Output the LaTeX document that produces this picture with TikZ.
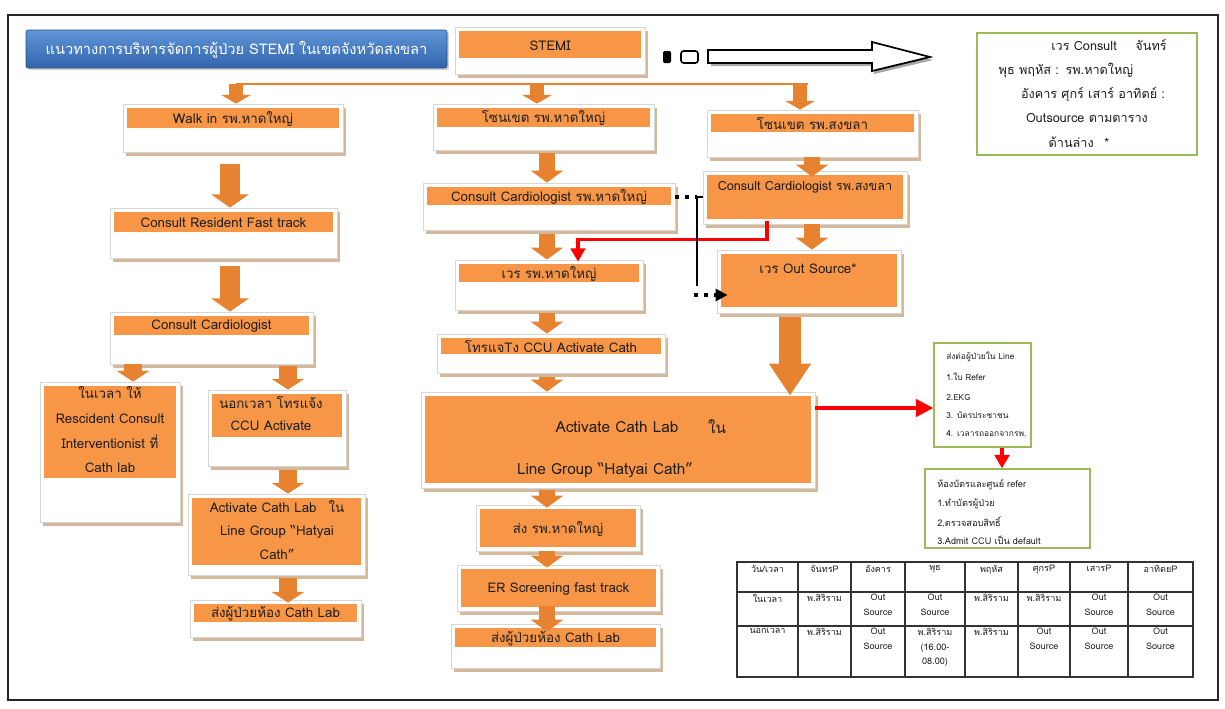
\documentclass[tikz,border=0pt]{standalone}
\usepackage{fontspec}
\setmainfont{Loma}[Script=Thai]
\usetikzlibrary{arrows.meta,fit,shadows,calc}
\definecolor{orng}{RGB}{247,150,70}
\definecolor{arrorg}{RGB}{230,130,48}
\definecolor{shad}{RGB}{205,172,135}
\definecolor{cardedge}{RGB}{214,214,214}
\definecolor{grn}{RGB}{155,187,89}
\definecolor{txt}{RGB}{30,30,30}
\definecolor{bluetop}{RGB}{95,150,215}
\definecolor{bluebot}{RGB}{50,100,172}
\tikzset{
  cardbox/.style={draw=cardedge, line width=0.6pt, fill=white, inner sep=0pt,
    drop shadow={shadow xshift=2.6pt, shadow yshift=-3.2pt, fill=shad, opacity=0.85}},
  bandbox/.style={fill=orng, inner sep=0pt},
  lbl/.style={text=txt, font=\fontsize{10}{12}\selectfont, inner sep=0pt, align=center},
  biglbl/.style={text=txt, font=\fontsize{11.5}{14}\selectfont, inner sep=0pt, align=center},
  gbox/.style={draw=grn, line width=1.1pt, fill=white, inner sep=0pt},
  smalltxt/.style={text=txt, font=\fontsize{6.3}{9}\selectfont, inner sep=0pt, anchor=west},
  infotxt/.style={text=txt, font=\fontsize{9.5}{12}\selectfont, inner sep=0pt},
  tcell/.style={text=txt, font=\fontsize{6.8}{11}\selectfont, inner sep=0pt, align=center, anchor=north},
  tline/.style={draw=black!80, line width=1.3pt},
  titlebox/.style={rounded corners=1.5pt, top color=bluetop, bottom color=bluebot, draw=bluebot!80!black, line width=0.4pt,
    inner sep=0pt, drop shadow={shadow xshift=1.5pt, shadow yshift=-1.5pt, opacity=.35}},
  titletxt/.style={text=white, font=\fontsize{11}{13}\selectfont, inner sep=0pt},
  fatA/.style={draw=arrorg, line width=15pt, -{Triangle[width=28pt,length=10pt]}},
  fatB/.style={draw=arrorg, line width=13pt, -{Triangle[width=24pt,length=8pt]}},
  fatC/.style={draw=arrorg, line width=11.5pt, -{Triangle[width=24pt,length=9pt]}},
  fatD/.style={draw=arrorg, line width=10pt, -{Triangle[width=22pt,length=6.5pt]}},
  fatE/.style={draw=arrorg, line width=16.5pt, -{Triangle[width=30pt,length=24pt]}},
  busline/.style={draw=arrorg, line width=1.3pt},
  redarr/.style={draw=red, line width=2.3pt, -{Triangle[width=11pt,length=10pt]}},
  blkdots/.style={draw=black, line width=3pt, dash pattern=on 3pt off 4.5pt},
  blkline/.style={draw=black, line width=2.2pt},
  blkdotsarr/.style={draw=black, line width=3pt, dash pattern=on 3pt off 4.5pt, -{Triangle[width=9pt,length=9pt]}},
}
\newcommand\card[7]{%
  \node[cardbox, fit={(#2,#3) (#4,#5)}] (#1) {};
  \node[bandbox, fit={({#2+4},{#3+4}) ({#4-4},#6)}] (#1b) {};
  \node[lbl] (#1t) at ($(#1b.center)+(0,1)$) {#7};
}
\begin{document}
\begin{tikzpicture}[x=0.75pt,y=-0.75pt]
\useasboundingbox (0,0) rectangle (1225,708);
\draw[line width=1.5pt, draw=black!85] (8,15) rectangle (1218,700);

% title
\node[titlebox, fit={(26,30) (447,68)}] (title) {};
\node[titletxt] (titlet) at ($(title.center)+(0,1)$) {แนวทางการบริหารจัดการผู้ป่วย STEMI ในเขตจังหวัดสงขลา};

% STEMI + hollow arrow
\card{stemi}{455}{27}{645}{74}{58}{STEMI}
\fill[black, rounded corners=1pt] (663,51) rectangle (671,63);
\draw[line width=1.2pt, rounded corners=2pt, fill=white] (681,51) rectangle (698,63);
\fill[black!35] (711,53) -- (874,53) -- (874,45) -- (933,60) -- (874,74) -- (874,66) -- (711,66) -- cycle;
\draw[line width=1.3pt, fill=white] (708,50) -- (872,50) -- (872,42) -- (930,57) -- (872,71) -- (872,63) -- (708,63) -- cycle;

% info box
\node[gbox, fit={(977,33) (1197,155)}] (info) {};
\node[infotxt] (info1) at (1109,45) {เวร Consult\hspace{14pt}จันทร์};
\node[infotxt] (info2) at (1066,70) {พุธ พฤหัส :\hspace{5pt}รพ.หาดใหญ่};
\node[infotxt] (info3) at (1093,95) {อังคาร ศุกร์ เสาร์ อาทิตย์ :};
\node[infotxt] (info4) at (1087,118) {Outsource ตามตาราง};
\node[infotxt] (info5) at (1079,142) {ด้านล่าง\hspace{8pt}*};

% left column
\card{walk}{123}{104}{343}{152}{128}{Walk in รพ.หาดใหญ่}
\card{res}{110}{208}{337}{258}{232}{Consult Resident Fast track}
\card{cardio}{110}{312}{313}{364}{335}{Consult Cardiologist}
\card{inhr}{40}{382}{180}{522}{478}{}
\node[lbl, font=\fontsize{10}{18.5}\selectfont] (inhrt) at (110,430) {ในเวลา ให้\\Rescident Consult\\Interventionist ที่\\Cath lab};
\card{outhr}{208}{390}{346}{466}{437}{}
\node[lbl, font=\fontsize{10}{16.5}\selectfont] (outhrt) at (271,414) {นอกเวลา โทรแจ้ง\\CCU Activate};
\card{actL}{188}{494}{365}{575}{565}{}
\node[lbl, font=\fontsize{10}{17.3}\selectfont] (actLt) at (277,530) {Activate Cath Lab\hspace{9pt}ใน\\Line Group “Hatyai\\Cath”};
\card{sendL}{190}{600}{361}{637}{622}{ส่งผู้ป่วยห้อง Cath Lab}

% middle column
\card{zoneHY}{433}{104}{654}{150}{127}{โซนเขต รพ.หาดใหญ่}
\card{ccHY}{423}{183}{675}{230}{205}{Consult Cardiologist รพ.หาดใหญ่}
\card{wHY}{455}{260}{643}{310}{282}{เวร รพ.หาดใหญ่}
\card{call}{437}{334}{665}{373}{354}{โทรแจTง CCU Activate Cath}
\card{actB}{421}{392}{815}{488}{483}{}
\node[biglbl] (actBt1) at (617,427) {Activate Cath Lab};
\node[biglbl] (actBt2) at (717,427) {ใน};
\node[biglbl] (actBt3) at (605,470) {Line Group “Hatyai Cath”};
\card{sendHY}{476}{505}{640}{551}{547}{ส่ง รพ.หาดใหญ่}
\card{er}{457}{565}{660}{611}{607}{ER Screening fast track}
\card{sendC}{451}{624}{660}{668}{647}{ส่งผู้ป่วยห้อง Cath Lab}

% right column
\card{zoneSK}{707}{110}{918}{157}{132}{โซนเขต รพ.สงขลา}
\card{ccSK}{703}{171}{907}{224}{219}{}
\node[lbl, font=\fontsize{9.5}{12}\selectfont] (ccSKt) at (805,187) {Consult Cardiologist รพ.สงขลา};
\card{outS}{717}{250}{901}{313}{307}{}
\node[lbl] (outSt) at (808,269) {เวร Out Source*};

% bus and top arrows
\coordinate (busL) at (236,84);
\coordinate (busM) at (537,84);
\coordinate (busR) at (800,84);
\coordinate (busE) at (808,84);
\draw[busline] (busL) -- (busE);
\draw[fatD] (busL) -- (walk.north -| busL);
\draw[fatD] (busM) -- (zoneHY.north -| busM);
\draw[fatD] (busR) -- (zoneSK.north -| busR);

% left arrows
\coordinate (axW) at (230,0);
\coordinate (axL) at (133,0);
\coordinate (axR) at (288,0);
\draw[fatA, shorten <=9pt] (walk.south -| axW) -- (res.north -| axW);
\draw[fatA, shorten <=6pt] (res.south -| axW) -- (cardio.north -| axW);
\draw[fatB] (cardio.south -| axL) -- (inhr.north -| axL);
\draw[fatB, shorten <=1pt] (cardio.south -| axR) -- (outhr.north -| axR);
\draw[fatB, shorten <=3pt] (outhr.south -| axR) -- (actL.north -| axR);
\draw[fatB, shorten <=2pt] (actL.south -| axR) -- ($(sendL.north -| axR)+(0,3)$);

% middle arrows
\coordinate (axM) at (547,0);
\draw[fatC, shorten <=2pt] (zoneHY.south -| axM) -- (ccHY.north -| axM);
\draw[fatC, shorten <=3pt] (ccHY.south -| axM) -- (wHY.north -| axM);
\draw[fatC, shorten <=2pt] (wHY.south -| axM) -- (call.north -| axM);
\draw[fatC, shorten <=3pt] (call.south -| axM) -- (actB.north -| axM);
\draw[fatC, shorten <=1pt] (actB.south -| axM) -- ($(sendHY.north -| axM)+(0,3)$);
\draw[fatC] (sendHY.south -| axM) -- ($(er.north -| axM)+(0,3)$);
\draw[fatC, shorten <=-4pt] (er.south -| axM) -- ($(sendC.north -| axM)+(0,8)$);

% right arrows
\coordinate (axS) at (812,0);
\coordinate (axB) at (790,0);
\draw[fatC] (zoneSK.south -| axS) -- ($(ccSK.north -| axS)+(0,6)$);
\draw[fatC] (ccSK.south -| axS) -- (outS.north -| axS);
\draw[fatE, shorten <=3pt] (outS.south -| axB) -- ($(actB.north -| axB)+(0,4)$);

% red connectors
\coordinate (r1) at (767,0);
\coordinate (r2) at (578,0);
\draw[redarr] ($(ccSK.south -| r1)+(0,-3)$) -- ++(0,18) -| ($(wHY.north -| r2)+(0,2)$);
\node[gbox, fit={(934,343) (1031,447)}] (gb1) {};
\node[gbox, fit={(925,469) (1090,548)}] (gb2) {};
\coordinate (ry) at (0,408);
\draw[redarr, -{Triangle[width=13pt,length=13pt]}] (actB.east |- ry) -- (gb1.west |- ry);
\coordinate (rx) at (1002,0);
\draw[redarr] (gb1.south -| rx) -- (gb2.north -| rx);

\node[smalltxt] (g1a) at (946,357) {ส่งต่อผู้ป่วยใน Line};
\node[smalltxt] (g1b) at (946,377) {1.ใบ Refer};
\node[smalltxt] (g1c) at (946,397) {2.EKG};
\node[smalltxt] (g1d) at (946,415) {3. บัตรประชาชน};
\node[smalltxt] (g1e) at (946,433) {4. เวลารถออกจากรพ.};
\node[smalltxt, font=\fontsize{6.9}{9}\selectfont] (g2a) at (937,485) {ห้องบัตรและศูนย์ refer};
\node[smalltxt, font=\fontsize{6.9}{9}\selectfont] (g2b) at (937,504) {1.ทำบัตรผู้ป่วย};
\node[smalltxt, font=\fontsize{6.9}{9}\selectfont] (g2c) at (937,522) {2.ตรวจสอบสิทธิ์};
\node[smalltxt, font=\fontsize{6.9}{9}\selectfont] (g2d) at (937,540) {3.Admit CCU เป็น default};

% black dotted connector
\coordinate (bk1) at (697,197);
\coordinate (bk2) at (697,286);
\coordinate (bk3) at (694,295);
\draw[blkdots] (ccHY.east |- bk1) -- (bk1);
\draw[blkline] ($(bk1)+(-2,0)$) -- ++(8,0);
\draw[blkline] (bk1) -- (bk2);
\draw[blkdotsarr] (bk3) -- ($(outS.west |- bk3)+(11,0)$);

% table
\draw[tline] (737,562) rectangle (1193,677);
\foreach \xx in {798,851,905,965,1018,1070,1128} \draw[tline] (\xx,562) -- (\xx,677);
\foreach \yy in {592,626} \draw[tline] (737,\yy) -- (1193,\yy);
\node[tcell] (t11) at (767.5,565) {วัน/เวลา};
\node[tcell] (t12) at (824.5,565) {จันทรP};
\node[tcell] (t13) at (878,565) {อังคาร};
\node[tcell] (t14) at (935,565) {พุธ};
\node[tcell] (t15) at (991.5,565) {พฤหัส};
\node[tcell] (t16) at (1044,565) {ศุกรP};
\node[tcell] (t17) at (1099,565) {เสารP};
\node[tcell] (t18) at (1160.5,565) {อาทิตยP};
\node[tcell] (t21) at (767.5,594) {ในเวลา};
\node[tcell] (t22) at (824.5,594) {พ.สิริราม};
\node[tcell] (t23) at (878,594) {Out\\Source};
\node[tcell] (t24) at (935,594) {Out\\Source};
\node[tcell] (t25) at (991.5,594) {พ.สิริราม};
\node[tcell] (t26) at (1044,594) {พ.สิริราม};
\node[tcell] (t27) at (1099,594) {Out\\Source};
\node[tcell] (t28) at (1160.5,594) {Out\\Source};
\node[tcell] (t31) at (767.5,628) {นอกเวลา};
\node[tcell] (t32) at (824.5,628) {พ.สิริราม};
\node[tcell] (t33) at (878,628) {Out\\Source};
\node[tcell] (t34) at (935,628) {พ.สิริราม\\(16.00-\\08.00)};
\node[tcell] (t35) at (991.5,628) {พ.สิริราม};
\node[tcell] (t36) at (1044,628) {Out\\Source};
\node[tcell] (t37) at (1099,628) {Out\\Source};
\node[tcell] (t38) at (1160.5,628) {Out\\Source};
\end{tikzpicture}
\end{document}
